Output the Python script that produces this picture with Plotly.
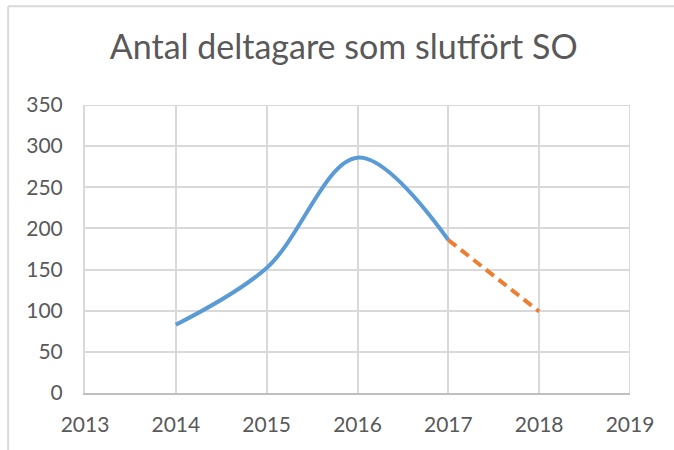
import plotly.graph_objects as go

title_text = "Antal deltagare som slutfört SO"
years_actual = [2014, 2015, 2016, 2017]
values_actual = [83, 152, 286, 186]
years_forecast = [2017, 2018]
values_forecast = [186, 99]
x_ticks = [2013, 2014, 2015, 2016, 2017, 2018, 2019]
y_ticks = [0, 50, 100, 150, 200, 250, 300, 350]

FONT = "Lato"
TEXT = "#595959"
GRID = "#d9d9d9"

fig = go.Figure()
fig.add_trace(go.Scatter(
    x=years_actual, y=values_actual, mode="lines",
    line=dict(color="#5b9bd5", width=4, shape="spline", smoothing=1.0),
    showlegend=False, hoverinfo="x+y"))
fig.add_trace(go.Scatter(
    x=years_forecast, y=values_forecast, mode="lines",
    line=dict(color="#ed7d31", width=4, dash="10px,6px"),
    showlegend=False, hoverinfo="x+y"))

fig.update_layout(
    width=674, height=450,
    margin=dict(l=85, r=44, t=105, b=57),
    paper_bgcolor="white", plot_bgcolor="white",
    title=dict(text=title_text, x=0.51, xanchor="center", y=0.895, yanchor="middle",
               font=dict(family=FONT, size=34, color=TEXT)),
    font=dict(family=FONT, color=TEXT),
    xaxis=dict(range=[2013, 2019], tickvals=x_ticks, ticktext=[str(v) for v in x_ticks],
               showgrid=True, gridcolor=GRID, gridwidth=2,
               showline=True, linecolor="#bfbfbf", linewidth=2, mirror=False,
               zeroline=False, tickfont=dict(family=FONT, size=21, color=TEXT),
               ticks="", ticklabelstandoff=12),
    yaxis=dict(range=[0, 350], tickvals=y_ticks, ticktext=[str(v) for v in y_ticks],
               showgrid=True, gridcolor=GRID, gridwidth=2,
               showline=True, linecolor=GRID, linewidth=2,
               zeroline=False, tickfont=dict(family=FONT, size=21, color=TEXT),
               ticks="", ticklabelstandoff=16),
    shapes=[
        dict(type="line", xref="paper", yref="paper", x0=-0.141, x1=1.1, y0=1.343, y1=1.343,
             line=dict(color="#d9d9d9", width=2)),
        dict(type="line", xref="paper", yref="paper", x0=-0.141, x1=-0.141, y0=1.343, y1=-0.2,
             line=dict(color="#d9d9d9", width=2)),
        dict(type="line", xref="x", yref="paper", x0=2019, x1=2019, y0=0, y1=1,
             line=dict(color=GRID, width=2)),
        dict(type="line", xref="paper", yref="y", x0=0, x1=1, y0=350, y1=350,
             line=dict(color=GRID, width=2)),
    ],
)

fig.write_html("out.html", config={"displayModeBar": False},
               post_script="document.body.style.margin='0';")
